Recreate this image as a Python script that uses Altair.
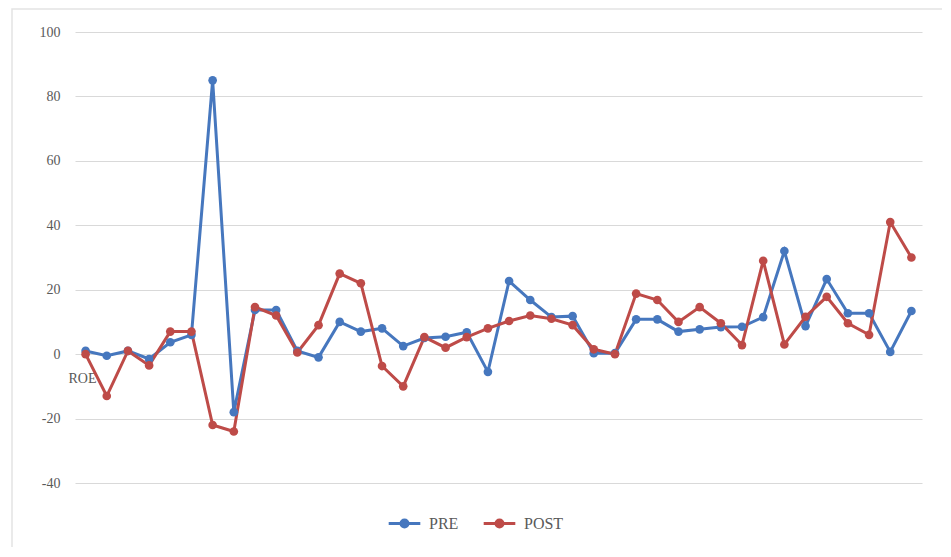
import altair as alt
import pandas as pd

idx = list(range(1, 41))
pre = [1, -0.5, 1, -1.5, 3.7, 6, 85, -18, 13.7, 13.7,
       1, -1, 10, 7, 8, 2.5, 5, 5.4, 6.8, -5.5,
       22.7, 16.8, 11.5, 11.8, 0.3, 0.3, 10.8, 10.8, 7, 7.7,
       8.4, 8.5, 11.5, 32, 8.7, 23.3, 12.7, 12.7, 0.7, 13.4]
post = [0, -13, 1, -3.5, 7, 7, -22, -24, 14.6, 12,
        0.5, 9, 25, 22, -3.7, -10, 5.3, 2, 5.3, 8,
        10.3, 12, 11, 9, 1.5, 0, 18.8, 16.8, 10, 14.6,
        9.6, 2.8, 29, 3, 11.6, 17.8, 9.6, 6, 41, 30]
series = ["PRE", "POST"]
colors = ["#4677be", "#be4b48"]
y_ticks = [-40, -20, 0, 20, 40, 60, 80, 100]

df = pd.DataFrame({
    "i": idx * 2,
    "v": pre + post,
    "s": ["PRE"] * len(pre) + ["POST"] * len(post),
})

FONT = "Liberation Serif"
W, H = 847, 451

color = alt.Color(
    "s:N",
    scale=alt.Scale(domain=series, range=colors),
    sort=series,
    legend=alt.Legend(
        title=None, orient="none", direction="horizontal",
        legendX=312, legendY=474,
        symbolType="M-1,0H1M0.22,0A0.22,0.22 0 1,1 -0.22,0A0.22,0.22 0 1,1 0.22,0Z",
        symbolSize=1000, symbolStrokeWidth=3,
        labelFont=FONT, labelFontSize=16, labelColor="#595959",
        columnPadding=18, labelOffset=7,
    ),
)

x = alt.X("i:Q", scale=alt.Scale(domain=[0.5, 40.5]), axis=None)
y = alt.Y(
    "v:Q",
    scale=alt.Scale(domain=[-40, 100]),
    axis=alt.Axis(
        values=y_ticks, ticks=False, domain=False, grid=True,
        gridColor="#d9d9d9", gridWidth=1,
        labelExpr="datum.value + ''",
        labelFont=FONT, labelFontSize=14, labelColor="#595959", labelPadding=15,
        title="ROE", titleAngle=0, titleX=-7, titleY=346,
        titleAlign="left", titleBaseline="middle",
        titleFont=FONT, titleFontSize=14, titleFontWeight="normal",
        titleColor="#595959",
    ),
)

border = alt.Chart(pd.DataFrame({"a": [0]})).mark_rect(
    fill=None, stroke="#e3e3e3", strokeWidth=1.5, clip=False
).encode(
    x=alt.value(-63), x2=alt.value(880), y=alt.value(-23), y2=alt.value(518)
)

base = alt.Chart(df).encode(x=x, y=y, color=color, order="i:Q")
lines = base.mark_line(strokeWidth=3)
points = base.mark_point(filled=True, size=75, opacity=1)

chart = alt.layer(border, lines, points).properties(
    width=W, height=H,
    autosize=alt.AutoSizeParams(type="none"),
    padding={"left": 67, "top": 24, "right": 20, "bottom": 64},
).configure_view(stroke=None)

chart.save("out.html", embed_options={"renderer": "svg", "actions": False})
